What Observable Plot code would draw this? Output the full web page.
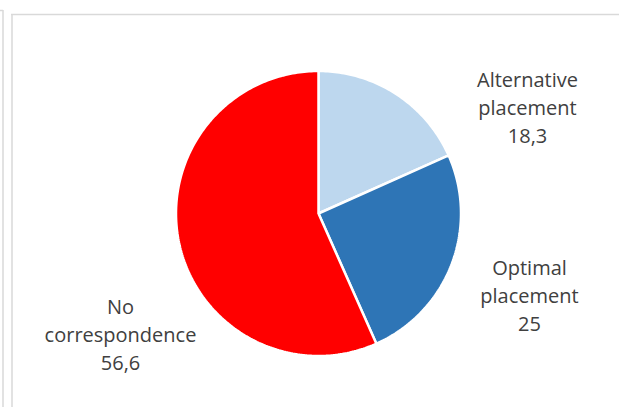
<!DOCTYPE html>
<html>
<head>
<meta charset="utf-8">
<script src="https://cdn.jsdelivr.net/npm/d3@7"></script>
<script src="https://cdn.jsdelivr.net/npm/@observablehq/plot@0.6"></script>
<style>
  html, body { margin: 0; padding: 0; background: #fff; }
  svg { display: block; }
</style>
</head>
<body>
<div id="chart"></div>
<script>
// ---- data ----
const categories = ["Alternative placement", "Optimal placement", "No correspondence"];
const values = [18.3, 25, 56.6];
const valueLabels = ["18,3", "25", "56,6"];
const labelLines = ["Alternative\nplacement", "Optimal\nplacement", "No\ncorrespondence"];

// ---- styling / layout (not data) ----
const colors = ["#BDD7EE", "#2E75B6", "#FF0000"];
const W = 619, H = 407;
const cx = 318, cy = 213, R = 142.5;
const labelPos = [[527, 106], [529, 294], [120, 333]];

const pie = d3.pie().sort(null).value(d => d)(values);

const slicePts = [];
pie.forEach((a, i) => {
  const cat = categories[i];
  slicePts.push({cat, x: cx, y: cy});
  const n = Math.max(8, Math.ceil((a.endAngle - a.startAngle) * 60));
  for (let k = 0; k <= n; k++) {
    const t = a.startAngle + (a.endAngle - a.startAngle) * k / n;
    slicePts.push({cat, x: cx + R * Math.sin(t), y: cy - R * Math.cos(t)});
  }
  slicePts.push({cat, x: cx, y: cy});
});

const labels = categories.map((c, i) => ({
  text: labelLines[i] + "\n" + valueLabels[i],
  x: labelPos[i][0],
  y: labelPos[i][1]
}));

const chart = Plot.plot({
  width: W,
  height: H,
  margin: 0,
  x: {domain: [0, W], range: [0, W], axis: null},
  y: {domain: [0, H], range: [0, H], axis: null},
  color: {domain: categories, range: colors},
  style: {fontFamily: "'Open Sans', sans-serif", background: "#fff"},
  marks: [
    // chart frame lines
    Plot.ruleX([2.5], {y1: 10, y2: H, stroke: "#d9d9d9", strokeWidth: 1.5}),
    Plot.ruleY([10], {x1: 0, x2: 3, stroke: "#d9d9d9", strokeWidth: 1.5}),
    Plot.ruleX([11.5], {y1: 14, y2: H, stroke: "#d9d9d9", strokeWidth: 1.5}),
    Plot.ruleY([14], {x1: 11, x2: W, stroke: "#d9d9d9", strokeWidth: 1.5}),
    // pie slices
    Plot.line(slicePts, {
      x: "x", y: "y", z: "cat", fill: "cat",
      stroke: "white", strokeWidth: 2.5, strokeLinejoin: "miter", curve: "linear"
    }),
    // labels
    Plot.text(labels, {
      x: "x", y: "y", text: "text",
      fill: "#404040", fontSize: 20, lineHeight: 1.4,
      textAnchor: "middle", lineAnchor: "middle"
    })
  ]
});
document.getElementById("chart").appendChild(chart);
</script>
</body>
</html>
